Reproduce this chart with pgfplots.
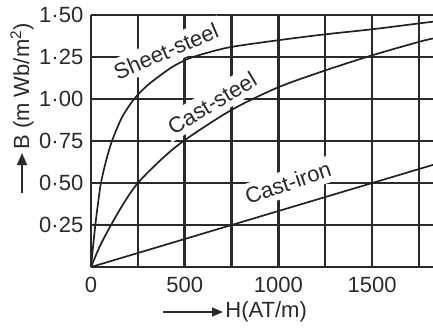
\documentclass[border=0pt]{standalone}
\usepackage{fontspec}
\setmainfont{Liberation Sans}
\usepackage{pgfplots}
\pgfplotsset{compat=1.18}
\usetikzlibrary{arrows.meta}
\definecolor{ink}{HTML}{2A2A2A}
\definecolor{curve}{HTML}{222222}
\usepackage{pgfplotstable}
\pgfplotstableread{
H B
0 0
10 0.11
23 0.25
37 0.375
53 0.5
80 0.63
112 0.75
165 0.89
230 1.0
300 1.08
375 1.145
440 1.195
520 1.24
620 1.275
750 1.31
1000 1.35
1250 1.385
1500 1.415
1750 1.45
1825 1.46
}\sheetsteel
\pgfplotstableread{
H B
0 0
50 0.13
107 0.25
175 0.38
250 0.5
375 0.64
500 0.755
750 0.935
1000 1.07
1250 1.17
1500 1.26
1750 1.34
1825 1.36
}\caststeel
\pgfplotstableread{
H B
0 0
1825 0.608
}\castiron
\begin{document}
\fontsize{11}{13}\selectfont
\begin{tikzpicture}
\path[use as bounding box] (-45.5pt,-30pt) rectangle (171pt,133.5pt);
\begin{axis}[
  scale only axis, width=171pt, height=126pt,
  xmin=0, xmax=1825, ymin=0, ymax=1.5,
  axis line style={draw=none},
  xtick={0,250,500,750,1000,1250,1500,1750},
  xticklabels={0,,500,,1000,,1500,},
  ytick={0,0.25,0.5,0.75,1,1.25,1.5},
  yticklabels={,0·25,0·50,0·75,1·00,1·25,1·50},
  grid=major, major grid style={ink, line width=1.25pt},
  major tick length=0pt,
  tick label style={font=\fontsize{11}{13}\selectfont, text=ink},
  xticklabel style={yshift=-1pt},
  /pgf/number format/assume math mode=true,
]
\node[fill=white, inner sep=2.5pt, rotate=23, text=ink] at (axis cs:400,1.285) {Sheet-steel};
\node[fill=white, inner sep=2.5pt, rotate=31, text=ink] at (axis cs:646,0.976) {Cast-steel};
\node[fill=white, inner sep=2.5pt, rotate=19, text=ink] at (axis cs:1051,0.50) {Cast-iron};
\addplot[curve, line width=0.85pt, smooth] table[x=H,y=B] {\sheetsteel};
\addplot[curve, line width=0.85pt, smooth] table[x=H,y=B] {\caststeel};
\addplot[curve, line width=0.85pt] table[x=H,y=B] {\castiron};
\end{axis}
\draw[ink, line width=0.8pt, -{Triangle[length=6pt,width=5pt]}] (-34.5pt,37pt) -- (-34.5pt,57pt);
\node[rotate=90, anchor=west, inner sep=0pt, text=ink] at (-34.5pt,58.5pt) {B (m Wb/m\textsuperscript{2})};
\draw[ink, line width=0.8pt, -{Triangle[length=5.5pt,width=4.5pt]}] (36pt,-22.5pt) -- (66pt,-22.5pt);
\node[anchor=west, inner sep=0pt, text=ink] at (67pt,-22.5pt) {H(AT/m)};
\end{tikzpicture}
\end{document}
